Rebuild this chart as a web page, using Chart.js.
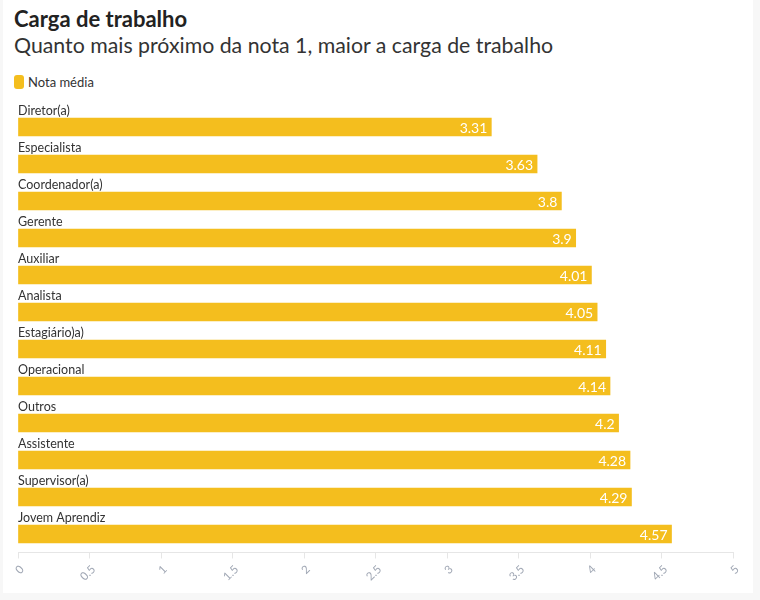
<!DOCTYPE html>
<html>
<head>
<meta charset="utf-8">
<script src="https://cdn.jsdelivr.net/npm/chart.js@4"></script>
<style>
  html, body { margin: 0; padding: 0; background: #f7f7f7; width: 760px; height: 600px; overflow: hidden; }
  #card { position: absolute; left: 3px; top: 0; width: 750px; height: 593px; background: #ffffff; }
  #title { position: absolute; left: 11px; top: 5px; font-family: Lato, sans-serif; font-weight: bold; font-size: 22px; color: #222; white-space: nowrap; }
  #subtitle { position: absolute; left: 11px; top: 32px; font-family: Lato, sans-serif; font-size: 21.3px; color: #333; white-space: nowrap; }
  #legend { position: absolute; left: 11px; top: 74px; font-family: Lato, sans-serif; font-size: 13px; color: #333; white-space: nowrap; display: flex; align-items: center; }
  #legend .sw { display: inline-block; width: 10px; height: 14px; border-radius: 3px; background: #F4BE1E; margin-right: 4px; }
  #wrap { position: absolute; left: 0; top: 95px; width: 750px; height: 498px; }
</style>
</head>
<body>
<div id="card">
  <div id="title">Carga de trabalho</div>
  <div id="subtitle">Quanto mais próximo da nota 1, maior a carga de trabalho</div>
  <div id="legend"><span class="sw"></span><span id="legendText"></span></div>
  <div id="wrap"><canvas id="c" width="750" height="498"></canvas></div>
</div>
<script>
const seriesName = "Nota média";
const categories = ["Diretor(a)", "Especialista", "Coordenador(a)", "Gerente", "Auxiliar", "Analista", "Estagiário)a)", "Operacional", "Outros", "Assistente", "Supervisor(a)", "Jovem Aprendiz"];
const values = [3.31, 3.63, 3.8, 3.9, 4.01, 4.05, 4.11, 4.14, 4.2, 4.28, 4.29, 4.57];
const tickValues = [0, 0.5, 1, 1.5, 2, 2.5, 3, 3.5, 4, 4.5, 5];

document.getElementById('legendText').textContent = seriesName;

const barColor = '#F4BE1E';

const labelPlugin = {
  id: 'labelPlugin',
  afterDatasetsDraw(chart) {
    const ctx = chart.ctx;
    const meta = chart.getDatasetMeta(0);
    const area = chart.chartArea;
    ctx.save();
    meta.data.forEach((bar, i) => {
      const top = bar.y - bar.height / 2;
      ctx.font = '12.5px Lato, sans-serif';
      ctx.fillStyle = '#333333';
      ctx.textAlign = 'left';
      ctx.textBaseline = 'alphabetic';
      ctx.fillText(categories[i], area.left, top - 3);
      ctx.font = '14px Lato, sans-serif';
      ctx.fillStyle = '#ffffff';
      ctx.textAlign = 'right';
      ctx.textBaseline = 'middle';
      ctx.fillText(String(values[i]), bar.x - 4, bar.y + 1);
    });
    ctx.restore();
  }
};

new Chart(document.getElementById('c'), {
  type: 'bar',
  data: {
    labels: categories,
    datasets: [{
      label: seriesName,
      data: values,
      backgroundColor: barColor,
      borderWidth: 0,
      barThickness: 18
    }]
  },
  options: {
    indexAxis: 'y',
    responsive: false,
    animation: false,
    layout: { padding: { left: 15, right: 20, top: 13.5, bottom: 0 } },
    plugins: {
      legend: { display: false },
      tooltip: { enabled: false }
    },
    scales: {
      y: { display: false, offset: true },
      x: {
        min: 0, max: 5,
        afterBuildTicks(s) { s.ticks = tickValues.map(v => ({ value: v })); },
        afterFit(s) { s.height = 40.5; },
        border: { color: '#e6e6e6', width: 1 },
        grid: { drawOnChartArea: false, drawTicks: true, tickLength: 6, color: '#e6e6e6' },
        ticks: {
          minRotation: 45, maxRotation: 45,
          color: '#a0a7b4',
          font: { family: 'Lato, sans-serif', size: 11.5 },
          padding: 4,
          labelOffset: 4,
          callback: (v) => String(v)
        }
      }
    }
  },
  plugins: [labelPlugin]
});
</script>
</body>
</html>
